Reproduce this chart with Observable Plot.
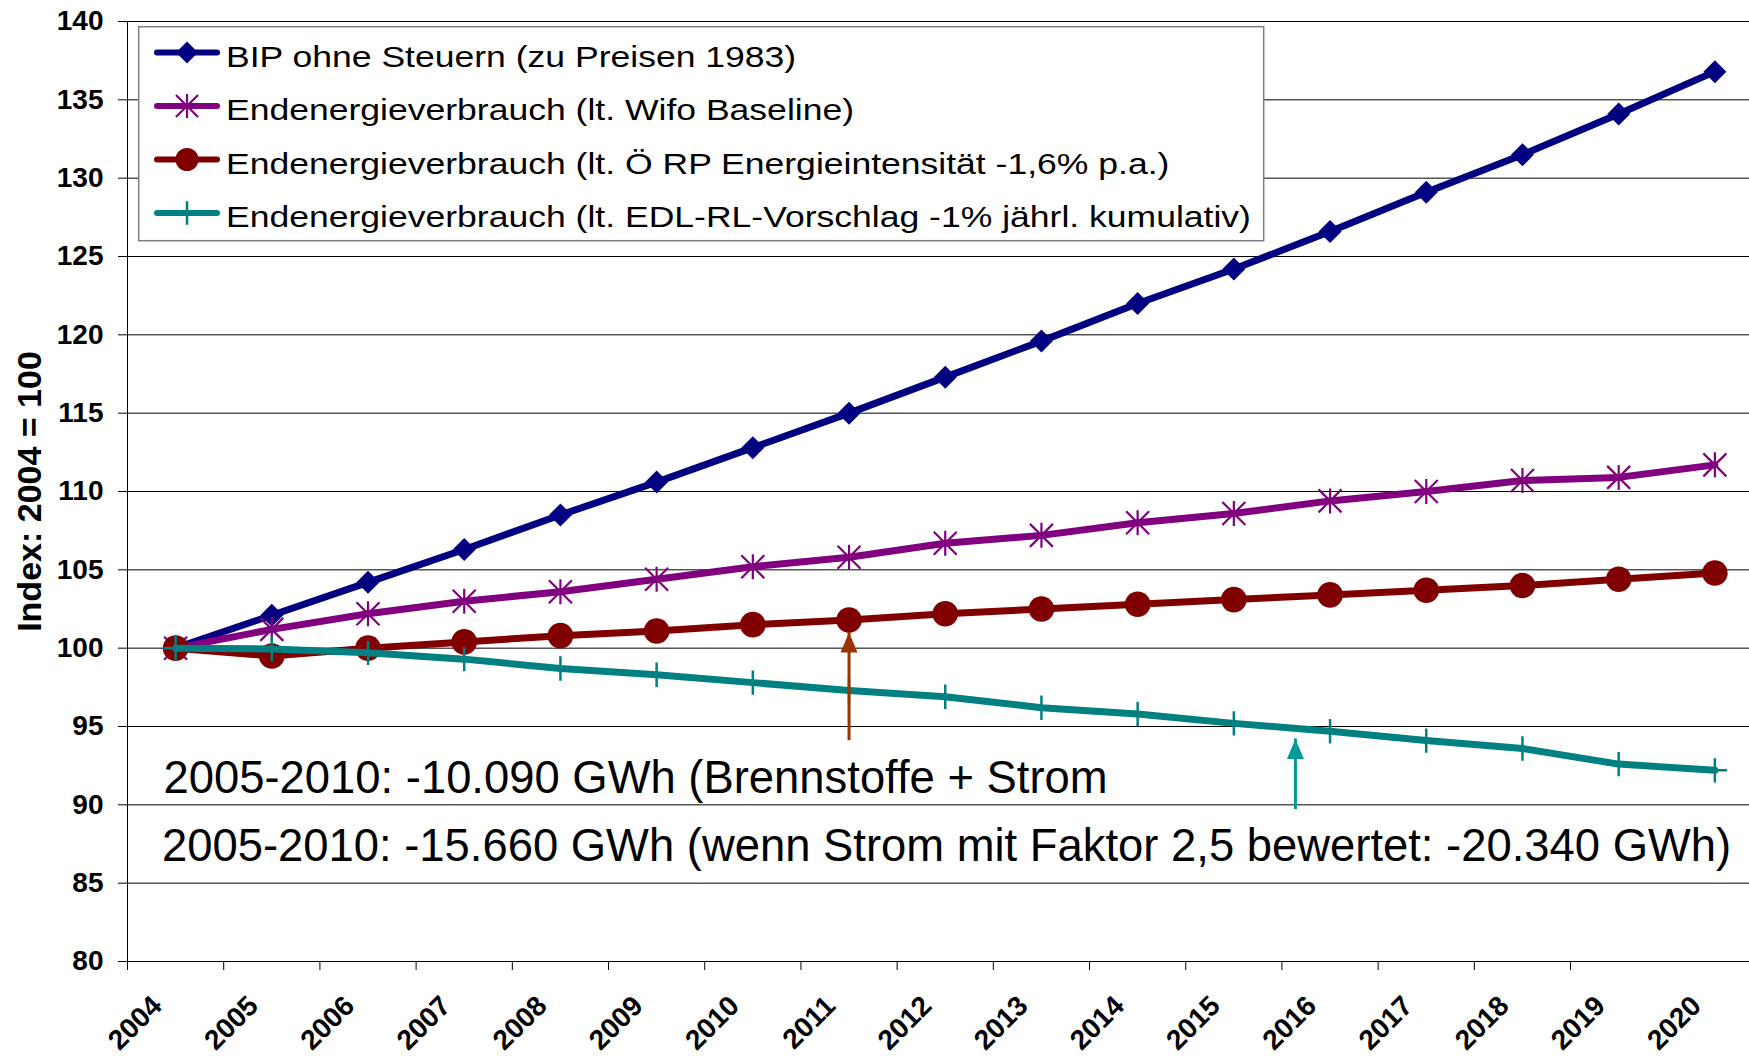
<!DOCTYPE html>
<html><head><meta charset="utf-8">
<script src="https://cdn.jsdelivr.net/npm/d3@7"></script>
<script src="https://cdn.jsdelivr.net/npm/@observablehq/plot@0.6"></script>
<style>
html,body{margin:0;padding:0;background:#fff;}
#wrap{position:relative;width:1749px;height:1056px;overflow:hidden;font-family:"Liberation Sans",Arial,sans-serif;}
#wrap > svg{display:block;}
#legend{position:absolute;left:0;top:0;pointer-events:none;}
</style></head><body><div id="wrap"></div>
<script>
// ---- data ----
const years = [2004, 2005, 2006, 2007, 2008, 2009, 2010, 2011, 2012, 2013, 2014, 2015, 2016, 2017, 2018, 2019, 2020];
const bip  = [100, 102.1, 104.2, 106.3, 108.5, 110.6, 112.8, 115.0, 117.3, 119.6, 122.0, 124.2, 126.6, 129.1, 131.5, 134.1, 136.8];
const wifo = [100, 101.2, 102.2, 103.0, 103.6, 104.4, 105.2, 105.8, 106.7, 107.2, 108.0, 108.6, 109.4, 110.0, 110.7, 110.9, 111.7];
const oerp = [100, 99.5, 100.0, 100.4, 100.8, 101.1, 101.5, 101.8, 102.2, 102.5, 102.8, 103.1, 103.4, 103.7, 104.0, 104.4, 104.8];
const edl  = [100, 99.95, 99.7, 99.3, 98.7, 98.3, 97.8, 97.3, 96.9, 96.2, 95.8, 95.2, 94.7, 94.1, 93.6, 92.6, 92.2];
const seriesNames = [
  "BIP ohne Steuern (zu Preisen 1983)",
  "Endenergieverbrauch (lt. Wifo Baseline)",
  "Endenergieverbrauch (lt. Ö RP Energieintensität -1,6% p.a.)",
  "Endenergieverbrauch (lt. EDL-RL-Vorschlag -1% jährl. kumulativ)"
];
const seriesColors = ["#000080", "#800080", "#800000", "#008080"];
const yTicks = [80, 85, 90, 95, 100, 105, 110, 115, 120, 125, 130, 135, 140];
const yLabel = "Index: 2004 = 100";
const noteTexts = [
  "2005-2010: -10.090 GWh (Brennstoffe + Strom",
  "2005-2010: -15.660 GWh (wenn Strom mit Faktor 2,5 bewertet: -20.340 GWh)"
];
const noteX = [2003.874, 2003.858];
const noteY = [90.77, 86.40];
const arrowX = [2011, 2015.64];
const arrowFrom = [94.1, 89.7];
const arrowTo = [101.0, 94.2];
const arrowColors = ["#993300", "#009999"];

// ---- symbols ----
const R = s => Math.sqrt(s / Math.PI);
const diamond = {draw(c, s){const r=R(s); c.moveTo(0,-r); c.lineTo(r,0); c.lineTo(0,r); c.lineTo(-r,0); c.closePath();}};
const star = {draw(c, s){const r=R(s), d=r*0.92; c.moveTo(0,-r); c.lineTo(0,r); c.moveTo(-d,-d); c.lineTo(d,d); c.moveTo(-d,d); c.lineTo(d,-d);}};
const plus = {draw(c, s){const r=R(s); c.moveTo(0,-r); c.lineTo(0,r); c.moveTo(-r,0); c.lineTo(r,0);}};
const head = {draw(c, s){const r=R(s); c.moveTo(0,0); c.lineTo(-0.68*r,1.6*r); c.lineTo(0.68*r,1.6*r); c.closePath();}};

const seriesValues = [bip, wifo, oerp, edl];
const rows = seriesValues.flatMap((vals, s) => years.map((year, i) => ({year, value: vals[i], s})));
const markerSpecs = [
  {symbol: diamond, r: 11.5, fill: seriesColors[0], stroke: "none"},
  {symbol: star, r: 12.5, fill: "none", stroke: seriesColors[1], strokeWidth: 2.2},
  {symbol: "circle", r: 12.8, fill: seriesColors[2], stroke: "none"},
  {symbol: plus, r: 12.2, fill: "none", stroke: seriesColors[3], strokeWidth: 2.5}
];
const arrows = arrowX.map((x, i) => ({x, from: arrowFrom[i], to: arrowTo[i], color: arrowColors[i]}));
const xBoundaries = years.slice(0, -1).map(y => y - 0.5);

const seriesMarks = seriesValues.flatMap((_, s) => {
  const d = rows.filter(r => r.s === s);
  const m = markerSpecs[s];
  return [
    Plot.line(d, {x: "year", y: "value", stroke: seriesColors[s], strokeWidth: 7, strokeLinejoin: "round", strokeLinecap: "round"}),
    Plot.dot(d, {x: "year", y: "value", symbol: m.symbol, r: m.r, fill: m.fill, stroke: m.stroke, strokeWidth: m.strokeWidth || 1})
  ];
});

const chart = Plot.plot({
  width: 1749, height: 1056,
  marginLeft: 127, marginRight: 0, marginTop: 21, marginBottom: 95,
  style: {fontFamily: "'Liberation Sans', Arial, sans-serif", fontSize: "28px", color: "black", background: "white"},
  x: {type: "linear", domain: [2003.5, 2020.36], axis: null},
  y: {domain: [80, 140], axis: null},
  marks: [
    Plot.ruleY(yTicks, {stroke: "black", strokeWidth: 1}),
    Plot.ruleX([2003.5], {stroke: "black", strokeWidth: 1}),
    Plot.axisY({ticks: yTicks, tickSize: 9, tickPadding: 15, fontSize: 28, fontWeight: "bold", label: null}),
    Plot.axisX({ticks: xBoundaries, tickSize: 9, tickFormat: () => "", label: null}),
    Plot.text(years, {x: d => d, text: d => String(d), frameAnchor: "bottom", dx: -12, dy: 46, rotate: -45,
      textAnchor: "end", lineAnchor: "bottom", fontSize: 28, fontWeight: "bold"}),
    Plot.text([yLabel], {text: d => d, frameAnchor: "left", rotate: -90, dx: -87, textAnchor: "middle",
      lineAnchor: "bottom", fontSize: 34, fontWeight: "bold"}),
    ...seriesMarks,
    Plot.ruleX(arrows, {x: "x", y1: "from", y2: "to", stroke: "color", strokeWidth: 3}),
    Plot.dot(arrows, {x: "x", y: "to", symbol: head, r: 12.5, fill: "color", stroke: "none"}),
    Plot.text(noteTexts, {x: (d, i) => noteX[i], y: (d, i) => noteY[i], text: d => d, textAnchor: "start",
      lineAnchor: "bottom", fontSize: 45.4, fontWeight: "normal"})
  ]
});
const wrap = document.getElementById("wrap");
wrap.appendChild(chart);

// ---- legend (overlay inside plot area) ----
const lg = d3.select(wrap).append("svg").attr("id", "legend").attr("width", 1749).attr("height", 1056);
lg.append("rect").attr("x", 138.7).attr("y", 26.7).attr("width", 1125).attr("height", 214)
  .attr("fill", "white").attr("stroke", "#808080").attr("stroke-width", 1.5);
const legSym = [diamond, star, d3.symbolCircle, plus];
const legR = [11, 12, 11.5, 11.7];
seriesNames.forEach((name, i) => {
  const cy = 52.5 + i * 53.5;
  const g = lg.append("g");
  g.append("line").attr("x1", 157).attr("x2", 217).attr("y1", cy).attr("y2", cy)
    .attr("stroke", seriesColors[i]).attr("stroke-width", 6).attr("stroke-linecap", "round");
  const m = markerSpecs[i];
  g.append("path").attr("transform", `translate(187,${cy})`)
    .attr("d", d3.symbol(legSym[i], legR[i] * legR[i] * Math.PI)())
    .attr("fill", m.fill).attr("stroke", m.stroke).attr("stroke-width", m.strokeWidth || 0);
  g.append("text").attr("transform", `translate(226,${cy + 14.4}) scale(1.185,1)`)
    .attr("font-family", "'Liberation Sans', Arial, sans-serif").attr("font-size", 30).attr("fill", "black")
    .text(name);
});
</script>
</body></html>
